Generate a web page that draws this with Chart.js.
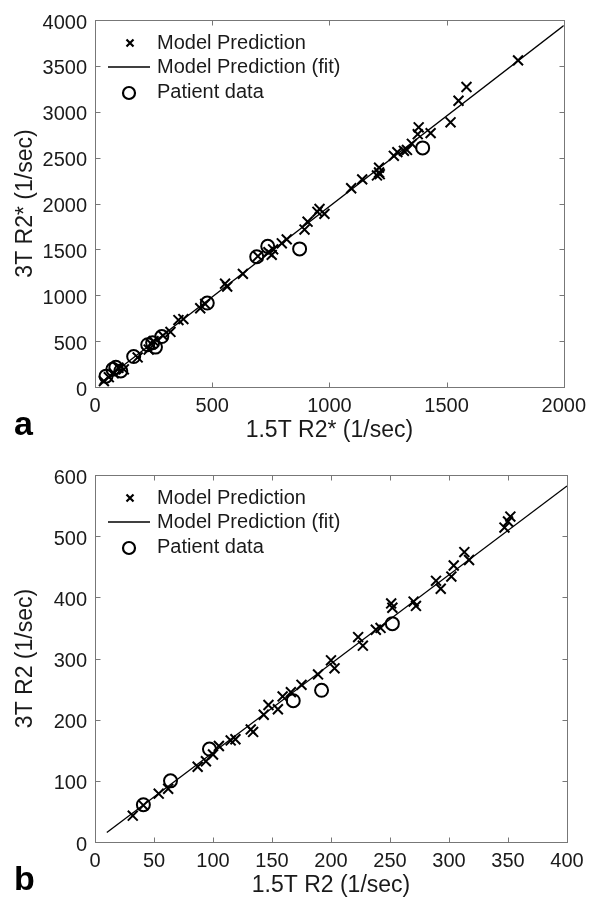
<!DOCTYPE html>
<html><head><meta charset="utf-8">
<script src="https://cdn.jsdelivr.net/npm/chart.js@4.4.0/dist/chart.umd.min.js"></script>
<style>
html,body{margin:0;padding:0;background:#fff;}
#wrap{position:relative;width:593px;height:899px;overflow:hidden;}
canvas{position:absolute;left:0;}
#ca{top:0}
#cb{top:455px}
</style></head><body>
<div id="wrap">
<canvas id="ca" width="593" height="444"></canvas>
<canvas id="cb" width="593" height="444"></canvas>
</div>
<script>
// ---- Legend / labels ----
const seriesLabels = ['Model Prediction', 'Model Prediction (fit)', 'Patient data'];

// ---- Panel a: R2* ----
const aTitleX = '1.5T R2* (1/sec)';
const aTitleY = '3T R2* (1/sec)';
const aXTicks = [0, 500, 1000, 1500, 2000];
const aYTicks = [0, 500, 1000, 1500, 2000, 2500, 3000, 3500, 4000];
const aModelX = [1805,1585,1551,1517,1381,1377,1432,1352,1331,1318,1290,1275,1212,1212,1203,1215,1140,1093,958,979,949,907,894,818,797,760,754,740,695,631,564,555,470,449,377,356,322,290,250,240,229,182,123,100,80,59,38];
const aModelY = [3560,3270,3120,2885,2830,2756,2767,2650,2584,2574,2560,2520,2391,2338,2306,2320,2263,2166,1941,1887,1909,1802,1716,1609,1566,1501,1440,1470,1426,1233,1094,1126,905,858,740,729,600,560,500,470,408,322,193,210,150,107,64];
const aFitX = [20, 2000];
const aFitY = [35, 3940];
const aPatientX = [47,76,89,110,165,225,246,258,285,479,690,737,873,1398];
const aPatientY = [118,193,214,175,332,461,483,435,550,915,1420,1533,1505,2606];

// ---- Panel b: R2 ----
const bTitleX = '1.5T R2 (1/sec)';
const bTitleY = '3T R2 (1/sec)';
const bXTicks = [0, 50, 100, 150, 200, 250, 300, 350, 400];
const bYTicks = [0, 100, 200, 300, 400, 500, 600];
const bModelX = [32,41,54,62,87,94,100,105,115,119,132,134,143,147,155,159,166,175,189,200,203,223,227,238,242,251,252,270,272,289,293,302,304,313,317,347,350,352];
const bModelY = [43,60,79,87,123,132,143,157,166,168,184,180,208,224,217,238,245,257,274,297,284,335,321,347,350,390,383,393,386,427,414,434,452,474,461,514,524,532];
const bFitX = [10, 400];
const bFitY = [15.5, 582];
const bPatientX = [41,64,97,168,192,252];
const bPatientY = [61,100,152,231,248,357];

const FONT = '"Liberation Sans", Arial, sans-serif';
const TXT = '#1a1a1a';
const FRAME = '#777';

function pts(xs, ys) { return xs.map((x, i) => ({x: x, y: ys[i]})); }

const framePlugin = {
  id: 'frame',
  afterDraw(chart, args, opts) {
    const ctx = chart.ctx;
    const {left, right, top, bottom} = chart.chartArea;
    const xs = chart.scales.x, ys = chart.scales.y;
    ctx.save();
    // box
    ctx.strokeStyle = FRAME; ctx.lineWidth = 1;
    const l = Math.round(left) + 0.5, r = Math.round(right) + 0.5, t = Math.round(top) + 0.5, b = Math.round(bottom) + 0.5;
    ctx.strokeRect(l, t, r - l, b - t);
    // inward ticks on all sides
    const L = 5;
    ctx.beginPath();
    xs.ticks.forEach(tk => {
      const p = Math.round(xs.getPixelForValue(tk.value)) + 0.5;
      if (p <= l + 1 || p >= r - 1) return;
      ctx.moveTo(p, b); ctx.lineTo(p, b - L);
      ctx.moveTo(p, t); ctx.lineTo(p, t + L);
    });
    ys.ticks.forEach(tk => {
      const p = Math.round(ys.getPixelForValue(tk.value)) + 0.5;
      if (p <= t + 1 || p >= b - 1) return;
      ctx.moveTo(l, p); ctx.lineTo(l + L, p);
      ctx.moveTo(r, p); ctx.lineTo(r - L, p);
    });
    ctx.stroke();
    // legend
    const rows = [23, 47, 72];
    ctx.font = '20px ' + FONT;
    ctx.textBaseline = 'middle';
    ctx.textAlign = 'left';
    chart.data.datasets.forEach((ds, i) => {
      const yy = top + rows[i];
      const mx = left + 35;
      ctx.strokeStyle = '#000';
      if (ds.showLine) {
        ctx.lineWidth = 1.3;
        ctx.beginPath(); ctx.moveTo(left + 13, yy); ctx.lineTo(left + 55, yy); ctx.stroke();
      } else if (ds.pointStyle === 'crossRot') {
        ctx.lineWidth = 2.2;
        const s = 3.5;
        ctx.beginPath();
        ctx.moveTo(mx - s, yy - s); ctx.lineTo(mx + s, yy + s);
        ctx.moveTo(mx - s, yy + s); ctx.lineTo(mx + s, yy - s);
        ctx.stroke();
      } else {
        ctx.lineWidth = 2.2;
        ctx.beginPath(); ctx.arc(mx - 1, yy + 1, 6, 0, Math.PI * 2); ctx.stroke();
      }
      ctx.fillStyle = TXT;
      ctx.fillText(ds.label, left + 62, yy);
    });
    // panel letter
    ctx.font = 'bold 34px ' + FONT;
    ctx.fillStyle = '#000';
    ctx.textBaseline = 'alphabetic';
    ctx.fillText(opts.letter, 14, 435);
    ctx.restore();
  }
};

function makeChart(id, cfg) {
  return new Chart(document.getElementById(id), {
    type: 'scatter',
    data: {
      datasets: [
        {label: seriesLabels[0], data: pts(cfg.mx, cfg.my), pointStyle: 'crossRot', pointRadius: 7, pointBorderWidth: 2,
         borderColor: '#000', backgroundColor: '#000', pointBorderColor: '#000', showLine: false},
        {label: seriesLabels[1], data: pts(cfg.fx, cfg.fy), showLine: true, pointRadius: 0, borderColor: '#000',
         borderWidth: 1.3, backgroundColor: '#000'},
        {label: seriesLabels[2], data: pts(cfg.px, cfg.py), pointStyle: 'circle', pointRadius: 6.5, pointBorderWidth: 2,
         borderColor: '#000', pointBorderColor: '#000', pointBackgroundColor: 'rgba(0,0,0,0)', backgroundColor: 'rgba(0,0,0,0)', showLine: false}
      ]
    },
    options: {
      responsive: false,
      animation: false,
      devicePixelRatio: 1,
      layout: {padding: {left: 12, right: 26, top: cfg.top, bottom: 0}},
      plugins: {legend: {display: false}, tooltip: {enabled: false}, frame: {letter: cfg.letter}},
      scales: {
        x: {
          type: 'linear', min: cfg.xt[0], max: cfg.xt[cfg.xt.length - 1],
          afterBuildTicks: s => { s.ticks = cfg.xt.map(v => ({value: v})); },
          afterFit: s => { s.height = 57; },
          grid: {display: false, drawTicks: false},
          border: {display: false},
          ticks: {font: {size: 20, family: FONT}, color: TXT, padding: 7, maxRotation: 0, autoSkip: false,
                  callback: v => String(v)},
          title: {display: true, text: cfg.tx, font: {size: 23, family: FONT}, color: TXT, padding: 0}
        },
        y: {
          type: 'linear', min: cfg.yt[0], max: cfg.yt[cfg.yt.length - 1],
          afterBuildTicks: s => { s.ticks = cfg.yt.map(v => ({value: v})); },
          afterFit: s => { s.width = 83; },
          grid: {display: false, drawTicks: false},
          border: {display: false},
          ticks: {font: {size: 20, family: FONT}, color: TXT, padding: 8, labelOffset: 3, autoSkip: false,
                  callback: v => String(v)},
          title: {display: true, text: cfg.ty, font: {size: 23, family: FONT}, color: TXT, padding: 0}
        }
      }
    },
    plugins: [framePlugin]
  });
}

makeChart('ca', {mx: aModelX, my: aModelY, fx: aFitX, fy: aFitY, px: aPatientX, py: aPatientY,
  xt: aXTicks, yt: aYTicks, tx: aTitleX, ty: aTitleY, top: 15, letter: 'a'});
makeChart('cb', {mx: bModelX, my: bModelY, fx: bFitX, fy: bFitY, px: bPatientX, py: bPatientY,
  xt: bXTicks, yt: bYTicks, tx: bTitleX, ty: bTitleY, top: 17, letter: 'b'});
</script>
</body></html>
